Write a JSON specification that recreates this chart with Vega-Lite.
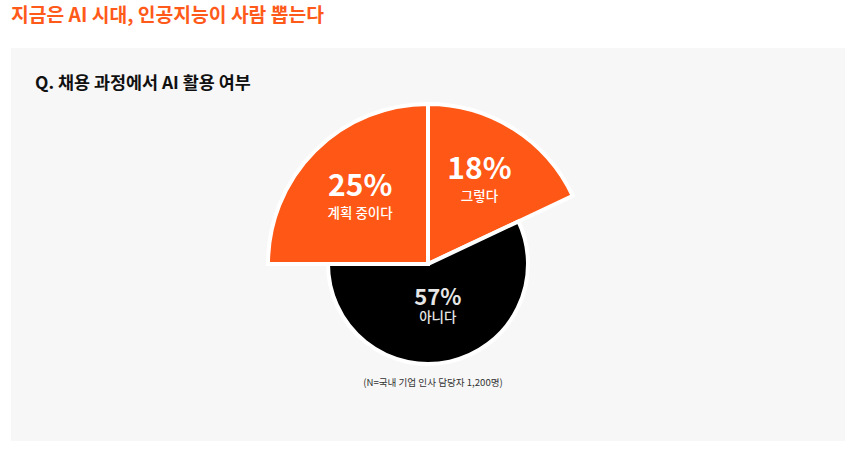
{
  "$schema": "https://vega.github.io/schema/vega-lite/v6.json",
  "background": "white",
  "padding": {"left": 11, "top": 6, "right": 0, "bottom": 0},
  "config": {"font": "Noto Sans CJK KR", "view": {"stroke": null}, "concat": {"spacing": 0}},
  "title": {"text": "지금은 AI 시대, 인공지능이 사람 뽑는다", "anchor": "start", "frame": "group", "fontSize": 19.3, "fontWeight": "bold", "color": "#ff5a1a", "offset": 22},
  "vconcat": [
    {
      "title": {"text": "(N=국내 기업 인사 담당자 1,200명)", "orient": "bottom", "anchor": "middle", "frame": "bounds", "fontSize": 9.6, "fontWeight": "normal", "color": "#333333", "offset": -63, "dx": 5},
      "vconcat": [
        {
          "width": 834,
          "height": 393,
          "view": {"fill": "#f7f7f7", "stroke": null},
          "title": {"text": "Q. 채용 과정에서 AI 활용 여부", "anchor": "start", "frame": "group", "fontSize": 17.4, "fontWeight": "bold", "color": "#111111", "dx": 24, "offset": -44},
          "data": {"values": [
            {"answer": "그렇다", "pct": 0.18, "rank": 1},
            {"answer": "아니다", "pct": 0.57, "rank": 2},
            {"answer": "계획 중이다", "pct": 0.25, "rank": 3}
          ]},
          "encoding": {
            "theta": {"field": "pct", "type": "quantitative", "stack": true},
            "order": {"field": "rank", "type": "quantitative"},
            "y": {"value": 216}
          },
          "layer": [
            {
              "mark": {"type": "arc", "stroke": "white", "strokeWidth": 4,
                "radius": {"expr": "datum.answer === '아니다' ? 100 : 160"},
                "fill": {"expr": "datum.answer === '아니다' ? '#000000' : '#ff5715'"}}
            },
            {
              "mark": {"type": "text", "fontWeight": "bold",
                "dy": {"expr": "datum.answer === '아니다' ? -10 : (datum.answer === '그렇다' ? -12.5 : -9.5)"},
                "radius": {"expr": "datum.answer === '아니다' ? 45 : 96"},
                "fontSize": {"expr": "datum.answer === '아니다' ? 22 : 30"},
                "fill": {"expr": "datum.answer === '아니다' ? '#e6e6e6' : '#ffffff'"}},
              "encoding": {"text": {"field": "pct", "type": "quantitative", "format": ".0%"}}
            },
            {
              "mark": {"type": "text", "fontWeight": 500, "fontSize": 13.5,
                "dy": {"expr": "datum.answer === '아니다' ? 10.5 : (datum.answer === '그렇다' ? 14.5 : 17.5)"},
                "radius": {"expr": "datum.answer === '아니다' ? 45 : 96"},
                "fill": {"expr": "datum.answer === '아니다' ? '#e6e6e6' : '#ffffff'"}},
              "encoding": {"text": {"field": "answer", "type": "nominal"}}
            }
          ]
        }
      ]
    }
  ]
}
